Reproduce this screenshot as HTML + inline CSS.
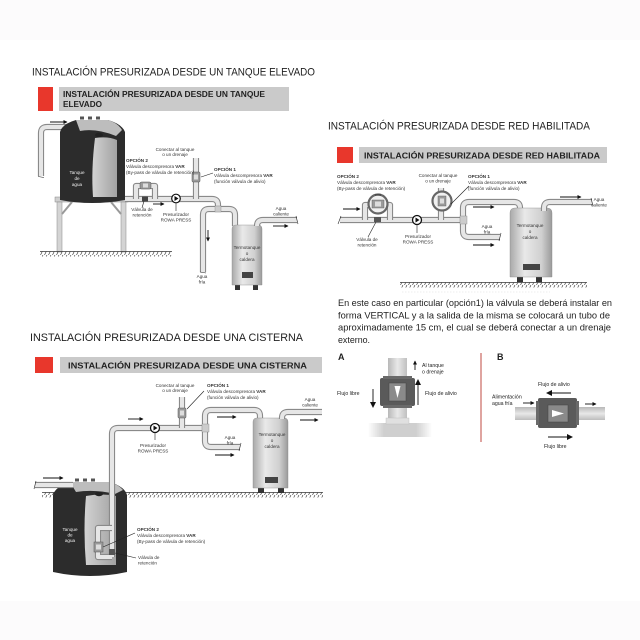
<!DOCTYPE html>
<html><head><meta charset="utf-8">
<style>
html,body{margin:0;padding:0;background:#fff;}
svg{display:block;}
.t{font-family:"Liberation Sans",Arial,sans-serif;fill:#222;}
.s{font-family:"Liberation Sans",Arial,sans-serif;fill:#333;font-size:4.6px;}
.b{font-weight:bold;}
.po{fill:none;stroke:#8a8a8a;stroke-width:6.2;stroke-linejoin:round;stroke-linecap:butt;}
.pi{fill:none;stroke:#e6e6e6;stroke-width:4;stroke-linejoin:round;stroke-linecap:butt;}
.ln{stroke:#222;stroke-width:0.6;fill:none;}
.ar{stroke:#111;stroke-width:0.9;fill:none;}
</style></head>
<body>
<svg width="640" height="640" viewBox="0 0 640 640" xmlns="http://www.w3.org/2000/svg">
<defs>
<marker id="ah" markerWidth="4" markerHeight="4" refX="3.5" refY="2" orient="auto" markerUnits="userSpaceOnUse">
<path d="M0,0 L4,2 L0,4 z" fill="#111"/></marker>
<marker id="ahb" markerWidth="6" markerHeight="6" refX="5" refY="3" orient="auto" markerUnits="userSpaceOnUse">
<path d="M0,0 L6,3 L0,6 z" fill="#111"/></marker>
<pattern id="hatch" width="4" height="5" patternUnits="userSpaceOnUse">
<line x1="0.5" y1="5" x2="3" y2="0" stroke="#333" stroke-width="0.6"/></pattern>
<linearGradient id="tt" x1="0" x2="1" y1="0" y2="0">
<stop offset="0" stop-color="#a9a9a9"/><stop offset="0.35" stop-color="#e9e9e9"/><stop offset="0.75" stop-color="#d0d0d0"/><stop offset="1" stop-color="#9a9a9a"/></linearGradient>
<linearGradient id="cut" x1="0" x2="1" y1="0" y2="0">
<stop offset="0" stop-color="#d2d2d2"/><stop offset="1" stop-color="#a2a2a2"/></linearGradient>
<linearGradient id="vp" x1="0" x2="1" y1="0" y2="0">
<stop offset="0" stop-color="#b8b8b8"/><stop offset="0.5" stop-color="#e8e8e8"/><stop offset="1" stop-color="#c0c0c0"/></linearGradient>
<linearGradient id="hp" x1="0" x2="0" y1="0" y2="1">
<stop offset="0" stop-color="#b8b8b8"/><stop offset="0.5" stop-color="#e8e8e8"/><stop offset="1" stop-color="#bdbdbd"/></linearGradient>
<linearGradient id="fade" x1="0" x2="1" y1="0" y2="0">
<stop offset="0" stop-color="#fff"/><stop offset="0.25" stop-color="#cfcfcf"/><stop offset="0.75" stop-color="#cfcfcf"/><stop offset="1" stop-color="#fff"/></linearGradient>

<path id="a1" d="M78,127 H47 Q41,127 41,133 V176"/>
<path id="a2" d="M125,199 H212 Q218,199 218,205 V209"/>
<path id="a3" d="M203,272 V215 Q203,209 209,209 H229 Q235,209 235,215 V226"/>
<path id="a4" d="M257,226 V226 Q257,220 263,220 H297"/>
<path id="a5" d="M196,158 V199"/>
<path id="a6" d="M136,199 V186 H155 V199"/>
<path id="b1" d="M340,220 H467"/>
<path id="b2" d="M463,220 V208 Q463,202 469,202 H514 Q520,202 520,208 V211"/>
<path id="b3" d="M463,220 V231 Q463,237 469,237 H500"/>
<path id="b4" d="M544,211 V208 Q544,202 550,202 H592"/>
<path id="b5" d="M441,188 V220"/>
<path id="b6" d="M365,220 V205 H390 V220"/>
<path id="c1" d="M112,557 V434 Q112,428 118,428 H205"/>
<path id="c2" d="M205,428 V416 Q205,410 211,410 H254 Q260,410 260,416 V419"/>
<path id="c3" d="M205,428 V441 Q205,447 211,447 H240"/>
<path id="c4" d="M282,419 V418 Q282,412 288,412 H322"/>
<path id="c5" d="M182,397 V428"/>
<path id="c6" d="M35,485 H73"/>
<path id="c7" d="M112,528 H98 V557 H112"/>
</defs>

<rect x="0" y="0" width="640" height="40" fill="#fcfbfc"/>
<rect x="0" y="601" width="640" height="39" fill="#fcfbfc"/>

<!-- SECTION 1 -->
<text class="t" x="32" y="75.5" font-size="10.6" textLength="283" lengthAdjust="spacingAndGlyphs">INSTALACIÓN PRESURIZADA DESDE UN TANQUE ELEVADO</text>
<rect x="38" y="87" width="15" height="24" fill="#e8372c"/>
<rect x="59" y="87" width="230" height="24" fill="#cacaca"/>
<text class="t b" x="63" y="97" font-size="8.6" fill="#333" textLength="202" lengthAdjust="spacingAndGlyphs">INSTALACIÓN PRESURIZADA DESDE UN TANQUE</text>
<text class="t b" x="63" y="107" font-size="8.6" fill="#333" textLength="39" lengthAdjust="spacingAndGlyphs">ELEVADO</text>

<rect x="55" y="197" width="73" height="5" fill="#cfcfcf" stroke="#888" stroke-width="0.5"/>
<rect x="57" y="202" width="5" height="50" fill="#d4d4d4" stroke="#888" stroke-width="0.5"/>
<rect x="121" y="202" width="5" height="50" fill="#d4d4d4" stroke="#888" stroke-width="0.5"/>
<line x1="62" y1="214" x2="72" y2="202" stroke="#999" stroke-width="2"/>
<line x1="121" y1="214" x2="111" y2="202" stroke="#999" stroke-width="2"/>
<rect x="40" y="251.5" width="132" height="5" fill="url(#hatch)"/>
<line x1="40" y1="251.5" x2="172" y2="251.5" stroke="#333" stroke-width="0.8"/>

<use href="#a1" class="po"/><use href="#a1" class="pi"/>
<line x1="38" y1="176.5" x2="44" y2="177.5" class="ln"/>
<path d="M60,132 Q62,124 76,120 H108 Q122,124 125,132 V200 Q92,206 60,200 Z" fill="#2c2c2c"/>
<path d="M76,120 H108 Q118,123 122,130 L116,136 Q96,128 80,131 Z" fill="#bdbdbd"/>
<path d="M95,138 Q108,136 117,140 V197 H93 Q91,170 95,138 Z" fill="url(#cut)"/>
<rect x="80" y="116.5" width="4" height="3" fill="#555"/><rect x="88" y="116.5" width="4" height="3" fill="#555"/><rect x="96" y="116.5" width="4" height="3" fill="#555"/>
<ellipse cx="99" cy="135" rx="4" ry="2.2" fill="#222"/>
<text class="s" x="77" y="174" text-anchor="middle" style="fill:#eee">Tanque</text>
<text class="s" x="77" y="180" text-anchor="middle" style="fill:#eee">de</text>
<text class="s" x="77" y="186" text-anchor="middle" style="fill:#eee">agua</text>
<line x1="50" y1="122" x2="67" y2="122" class="ar" marker-end="url(#ah)"/>

<use href="#a2" class="po"/><use href="#a2" class="pi"/>
<use href="#a3" class="po"/><use href="#a3" class="pi"/>
<use href="#a5" class="po"/><use href="#a5" class="pi"/>
<use href="#a6" class="po"/><use href="#a6" class="pi"/>
<line x1="200" y1="272" x2="206" y2="273" class="ln"/>
<rect x="215" y="206" width="6" height="6" fill="#ccc" stroke="#888" stroke-width="0.4"/>
<rect x="235" y="285" width="5" height="5" fill="#333"/><rect x="253" y="285" width="5" height="5" fill="#333"/>
<path d="M232,229 Q232,225 236,225 H258 Q262,225 262,229 V285 H232 Z" fill="url(#tt)" stroke="#888" stroke-width="0.4"/>
<rect x="242" y="272" width="11" height="6" fill="#444"/>
<use href="#a4" class="po"/><use href="#a4" class="pi"/>
<line x1="296" y1="216" x2="298" y2="224" class="ln"/>
<text class="s" x="247" y="249" text-anchor="middle">Termotanque</text>
<text class="s" x="247" y="255" text-anchor="middle">o</text>
<text class="s" x="247" y="261" text-anchor="middle">caldera</text>
<rect x="140" y="182" width="11" height="7" rx="1.5" fill="#9a9a9a" stroke="#555" stroke-width="0.5"/>
<rect x="143" y="183.5" width="5" height="4" fill="#ddd"/>
<rect x="142" y="196.5" width="6" height="5" fill="#444"/>
<rect x="192" y="172" width="8" height="10" rx="1" fill="#9a9a9a" stroke="#555" stroke-width="0.5"/>
<rect x="194" y="174.5" width="4" height="5" fill="#ddd"/>
<circle cx="176" cy="198.5" r="4.3" fill="#fff" stroke="#111" stroke-width="1.2"/>
<path d="M174.5,196 L178.5,198.5 L174.5,201 Z" fill="#111"/>
<line x1="176" y1="203" x2="176" y2="211" class="ln"/>
<line x1="213" y1="173" x2="201" y2="177" class="ln"/>
<line x1="142" y1="208" x2="144" y2="201" class="ln"/>
<line x1="153" y1="204" x2="164" y2="204" class="ar" marker-end="url(#ah)"/>
<line x1="208" y1="230" x2="208" y2="241" class="ar" marker-end="url(#ah)"/>
<line x1="273" y1="226" x2="288" y2="226" class="ar" marker-end="url(#ah)"/>
<text class="s" x="175" y="151" text-anchor="middle">Conectar al tanque</text>
<text class="s" x="175" y="156" text-anchor="middle">o un drenaje</text>
<text class="s b" x="126" y="162">OPCIÓN 2</text>
<text class="s" x="126" y="168">Válvula descompresora <tspan font-weight="bold">VAR</tspan></text>
<text class="s" x="126" y="174">(By-pass de válvula de retención)</text>
<text class="s b" x="214" y="171">OPCIÓN 1</text>
<text class="s" x="214" y="177">Válvula descompresora <tspan font-weight="bold">VAR</tspan></text>
<text class="s" x="214" y="183">(función válvula de alivio)</text>
<text class="s" x="142" y="211" text-anchor="middle">Válvula de</text>
<text class="s" x="142" y="216.5" text-anchor="middle">retención</text>
<text class="s" x="176" y="216" text-anchor="middle">Presurizador</text>
<text class="s" x="176" y="221.5" text-anchor="middle">ROWA PRESS</text>
<text class="s" x="281" y="210" text-anchor="middle">Agua</text>
<text class="s" x="281" y="215.5" text-anchor="middle">caliente</text>
<text class="s" x="202" y="278" text-anchor="middle">Agua</text>
<text class="s" x="202" y="283.5" text-anchor="middle">fría</text>

<!-- SECTION 2 -->
<text class="t" x="328" y="129.5" font-size="10.6" textLength="262" lengthAdjust="spacingAndGlyphs">INSTALACIÓN PRESURIZADA DESDE RED HABILITADA</text>
<rect x="337" y="147" width="16" height="16" fill="#e8372c"/>
<rect x="359" y="147" width="248" height="16" fill="#cacaca"/>
<text class="t b" x="364" y="158.5" font-size="8.6" fill="#333" textLength="236" lengthAdjust="spacingAndGlyphs">INSTALACIÓN PRESURIZADA DESDE RED HABILITADA</text>

<use href="#b1" class="po"/><use href="#b1" class="pi"/>
<use href="#b2" class="po"/><use href="#b2" class="pi"/>
<use href="#b3" class="po"/><use href="#b3" class="pi"/>
<use href="#b5" class="po"/><use href="#b5" class="pi"/>
<use href="#b6" class="po"/><use href="#b6" class="pi"/>
<rect x="460" y="216" width="7" height="8" fill="#ccc" stroke="#888" stroke-width="0.4"/>
<line x1="338" y1="224" x2="341" y2="216" class="ln"/>
<line x1="499" y1="241" x2="501" y2="233" class="ln"/>
<rect x="517" y="277" width="6" height="5" fill="#333"/><rect x="536" y="277" width="6" height="5" fill="#333"/>
<path d="M510,213 Q510,208 515,208 H547 Q552,208 552,213 V277 H510 Z" fill="url(#tt)" stroke="#888" stroke-width="0.4"/>
<rect x="523" y="264" width="17" height="6" fill="#444"/>
<use href="#b4" class="po"/><use href="#b4" class="pi"/>
<line x1="591" y1="198" x2="593" y2="206" class="ln"/>
<rect x="400" y="282.5" width="187" height="5" fill="url(#hatch)"/>
<line x1="400" y1="282.5" x2="587" y2="282.5" stroke="#333" stroke-width="0.8"/>
<text class="s" x="530" y="227" text-anchor="middle">Termotanque</text>
<text class="s" x="530" y="233" text-anchor="middle">o</text>
<text class="s" x="530" y="239" text-anchor="middle">caldera</text>
<circle cx="378" cy="204" r="9.5" fill="#f0f0f0" stroke="#666" stroke-width="2.2"/>
<rect x="372" y="200" width="12" height="8" fill="#9a9a9a" stroke="#555" stroke-width="0.4"/>
<rect x="375" y="201.5" width="6" height="5" fill="#ddd"/>
<line x1="375" y1="195" x2="381" y2="195" stroke="#333" stroke-width="1"/>
<rect x="374" y="217" width="7" height="5" fill="#555"/>
<circle cx="442" cy="201" r="9.5" fill="#f0f0f0" stroke="#666" stroke-width="2.2"/>
<rect x="438" y="196" width="8" height="10" fill="#9a9a9a" stroke="#555" stroke-width="0.4"/>
<rect x="440" y="198.5" width="4" height="5" fill="#ddd"/>
<circle cx="417" cy="220" r="4.5" fill="#fff" stroke="#111" stroke-width="1.3"/>
<path d="M415.5,217.5 L419.5,220 L415.5,222.5 Z" fill="#111"/>
<line x1="417" y1="224.5" x2="417" y2="233" class="ln"/>
<line x1="368" y1="237" x2="376" y2="222" class="ln"/>
<line x1="469" y1="186" x2="451" y2="204" class="ln"/>
<line x1="343" y1="209" x2="360" y2="209" class="ar" marker-end="url(#ah)"/>
<line x1="473" y1="207" x2="494" y2="207" class="ar" marker-end="url(#ah)"/>
<line x1="473" y1="245" x2="494" y2="245" class="ar" marker-end="url(#ah)"/>
<line x1="560" y1="197" x2="581" y2="197" class="ar" marker-end="url(#ah)"/>
<text class="s b" x="337" y="178">OPCIÓN 2</text>
<text class="s" x="337" y="184">Válvula descompresora <tspan font-weight="bold">VAR</tspan></text>
<text class="s" x="337" y="190">(By-pass de válvula de retención)</text>
<text class="s" x="438" y="177" text-anchor="middle">Conectar al tanque</text>
<text class="s" x="438" y="182.5" text-anchor="middle">o un drenaje</text>
<text class="s b" x="468" y="178">OPCIÓN 1</text>
<text class="s" x="468" y="184">Válvula descompresora <tspan font-weight="bold">VAR</tspan></text>
<text class="s" x="468" y="190">(función válvula de alivio)</text>
<text class="s" x="367" y="241" text-anchor="middle">Válvula de</text>
<text class="s" x="367" y="246.5" text-anchor="middle">retención</text>
<text class="s" x="418" y="238" text-anchor="middle">Presurizador</text>
<text class="s" x="418" y="243.5" text-anchor="middle">ROWA PRESS</text>
<text class="s" x="487" y="228" text-anchor="middle">Agua</text>
<text class="s" x="487" y="233.5" text-anchor="middle">fría</text>
<text class="s" x="599" y="201" text-anchor="middle">Agua</text>
<text class="s" x="599" y="206.5" text-anchor="middle">caliente</text>

<!-- paragraph -->
<line x1="402" y1="292" x2="550" y2="292" stroke="#ddd" stroke-width="0.6" stroke-dasharray="1.5,1.5"/>
<text class="t" x="338" y="306" font-size="9.4" fill="#333" textLength="274" lengthAdjust="spacingAndGlyphs">En este caso en particular (opción1) la válvula se deberá instalar en</text>
<text class="t" x="338" y="318.3" font-size="9.4" fill="#333" textLength="272" lengthAdjust="spacingAndGlyphs">forma VERTICAL y a la salida de la misma se colocará un tubo de</text>
<text class="t" x="338" y="330.6" font-size="9.4" fill="#333" textLength="273" lengthAdjust="spacingAndGlyphs">aproximadamente 15 cm, el cual se deberá conectar a un drenaje</text>
<text class="t" x="338" y="343" font-size="9.4" fill="#333" textLength="32" lengthAdjust="spacingAndGlyphs">externo.</text>

<!-- A -->
<text class="t b" x="338" y="360" font-size="9" fill="#333">A</text>
<rect x="368" y="423" width="64" height="14" fill="url(#fade)"/>
<rect x="388" y="358" width="19" height="66" fill="url(#vp)"/>
<rect x="386" y="418" width="23" height="6" fill="#e0e0e0" stroke="#bbb" stroke-width="0.4"/>
<rect x="380" y="378" width="35" height="28" rx="2" fill="#5a5a5a"/>
<rect x="383" y="376" width="29" height="3" fill="#6a6a6a"/>
<rect x="383" y="405" width="29" height="3" fill="#6a6a6a"/>
<rect x="389" y="383" width="17" height="18" fill="#8a8a8a" stroke="#444" stroke-width="0.5"/>
<path d="M394.5,386 L400.5,386 L397.5,398 Z" fill="#fff"/>
<line x1="373" y1="389" x2="373" y2="407" class="ar" marker-end="url(#ahb)" stroke-width="1.2"/>
<line x1="418" y1="405" x2="418" y2="380" class="ar" marker-end="url(#ahb)" stroke-width="1.2"/>
<line x1="415" y1="370" x2="415" y2="361" class="ar" marker-end="url(#ah)" stroke-width="0.7"/>
<text class="t" x="337" y="395" font-size="5.2" fill="#333">Flujo libre</text>
<text class="t" x="425" y="395" font-size="5.2" fill="#333">Flujo de alivio</text>
<text class="t" x="422" y="367" font-size="5.2" fill="#333">Al tanque</text>
<text class="t" x="422" y="373.5" font-size="5.2" fill="#333">o drenaje</text>

<line x1="481" y1="353" x2="481" y2="442" stroke="#b8352c" stroke-width="0.9"/>

<!-- B -->
<text class="t b" x="497" y="360" font-size="9" fill="#333">B</text>
<rect x="515" y="407" width="90" height="13" fill="url(#hp)"/>
<rect x="538" y="398" width="39" height="30" rx="2" fill="#5a5a5a"/>
<rect x="536" y="401" width="3" height="24" fill="#6a6a6a"/>
<rect x="576" y="401" width="3" height="24" fill="#6a6a6a"/>
<rect x="548" y="405" width="20" height="17" fill="#8a8a8a" stroke="#444" stroke-width="0.5"/>
<path d="M552,410 L564,413.5 L552,417 Z" fill="#fff"/>
<line x1="571" y1="393" x2="547" y2="393" class="ar" marker-end="url(#ahb)" stroke-width="1.2"/>
<line x1="548" y1="437" x2="572" y2="437" class="ar" marker-end="url(#ahb)" stroke-width="1.2"/>
<line x1="523" y1="403" x2="534" y2="403" class="ar" marker-end="url(#ah)" stroke-width="0.6"/>
<line x1="585" y1="404" x2="596" y2="404" class="ar" marker-end="url(#ah)" stroke-width="0.6"/>
<text class="t" x="538" y="386" font-size="5.2" fill="#333">Flujo de alivio</text>
<text class="t" x="492" y="398.5" font-size="5.2" fill="#333">Alimentación</text>
<text class="t" x="492" y="405" font-size="5.2" fill="#333">agua fría</text>
<text class="t" x="544" y="448" font-size="5.2" fill="#333">Flujo libre</text>

<!-- SECTION 3 -->
<text class="t" x="30" y="341" font-size="10.6" textLength="273" lengthAdjust="spacingAndGlyphs">INSTALACIÓN PRESURIZADA DESDE UNA CISTERNA</text>
<rect x="35" y="357" width="18" height="16" fill="#e8372c"/>
<rect x="60" y="357" width="262" height="16" fill="#cacaca"/>
<text class="t b" x="68" y="368.5" font-size="8.6" fill="#333" textLength="239" lengthAdjust="spacingAndGlyphs">INSTALACIÓN PRESURIZADA DESDE UNA CISTERNA</text>

<rect x="42" y="492.5" width="281" height="5" fill="url(#hatch)"/>
<line x1="42" y1="492.5" x2="323" y2="492.5" stroke="#333" stroke-width="0.8"/>

<path d="M53,495 Q55,487 70,482 H110 Q125,487 127,495 V572 Q90,580 53,572 Z" fill="#2c2c2c"/>
<path d="M70,482 H110 Q119,485 123,490 L115,494 Q95,489 76,492 Z" fill="#bdbdbd"/>
<path d="M86,496 Q102,493 116,496 V565 H86 Q83,530 86,496 Z" fill="url(#cut)"/>
<rect x="75" y="478.5" width="4" height="3" fill="#555"/><rect x="83" y="478.5" width="4" height="3" fill="#555"/><rect x="91" y="478.5" width="4" height="3" fill="#555"/>
<ellipse cx="99" cy="494" rx="4" ry="2.2" fill="#222"/>
<use href="#c6" class="po"/><use href="#c6" class="pi"/>
<line x1="34" y1="489" x2="36" y2="481" class="ln"/>
<line x1="43" y1="478" x2="63" y2="478" class="ar" marker-end="url(#ah)"/>
<text class="s" x="70" y="531" text-anchor="middle" style="fill:#eee">Tanque</text>
<text class="s" x="70" y="536.5" text-anchor="middle" style="fill:#eee">de</text>
<text class="s" x="70" y="542" text-anchor="middle" style="fill:#eee">agua</text>

<use href="#c1" class="po"/><use href="#c1" class="pi"/>
<use href="#c7" class="po"/><use href="#c7" class="pi"/>
<rect x="94" y="542" width="9" height="10" fill="#9a9a9a" stroke="#555" stroke-width="0.5"/>
<rect x="96" y="544.5" width="5" height="5" fill="#ddd"/>
<rect x="109" y="549" width="6" height="6" fill="#555"/>
<use href="#c2" class="po"/><use href="#c2" class="pi"/>
<use href="#c3" class="po"/><use href="#c3" class="pi"/>
<use href="#c5" class="po"/><use href="#c5" class="pi"/>
<rect x="202" y="424" width="7" height="8" fill="#ccc" stroke="#888" stroke-width="0.4"/>
<line x1="239" y1="451" x2="241" y2="443" class="ln"/>
<rect x="258" y="488" width="6" height="5" fill="#333"/><rect x="278" y="488" width="6" height="5" fill="#333"/>
<path d="M253,422 Q253,418 257,418 H284 Q288,418 288,422 V488 H253 Z" fill="url(#tt)" stroke="#888" stroke-width="0.4"/>
<rect x="265" y="477" width="13" height="6" fill="#444"/>
<use href="#c4" class="po"/><use href="#c4" class="pi"/>
<text class="s" x="272" y="436" text-anchor="middle">Termotanque</text>
<text class="s" x="272" y="442" text-anchor="middle">o</text>
<text class="s" x="272" y="448" text-anchor="middle">caldera</text>
<rect x="178" y="408" width="8" height="10" rx="1" fill="#9a9a9a" stroke="#555" stroke-width="0.5"/>
<rect x="180" y="410.5" width="4" height="5" fill="#ddd"/>
<circle cx="155" cy="428" r="4.5" fill="#fff" stroke="#111" stroke-width="1.3"/>
<path d="M153.5,425.5 L157.5,428 L153.5,430.5 Z" fill="#111"/>
<line x1="155" y1="432.5" x2="155" y2="440" class="ln"/>
<line x1="204" y1="391" x2="187" y2="409" class="ln"/>
<line x1="135" y1="533" x2="103" y2="547" class="ln"/>
<line x1="136" y1="558" x2="115" y2="553" class="ln"/>
<line x1="128" y1="419" x2="143" y2="419" class="ar" marker-end="url(#ah)"/>
<line x1="217" y1="417" x2="236" y2="417" class="ar" marker-end="url(#ah)"/>
<line x1="215" y1="455" x2="234" y2="455" class="ar" marker-end="url(#ah)"/>
<line x1="300" y1="420" x2="318" y2="420" class="ar" marker-end="url(#ah)"/>
<text class="s" x="175" y="387" text-anchor="middle">Conectar al tanque</text>
<text class="s" x="175" y="392" text-anchor="middle">o un drenaje</text>
<text class="s b" x="207" y="387">OPCIÓN 1</text>
<text class="s" x="207" y="393">Válvula descompresora <tspan font-weight="bold">VAR</tspan></text>
<text class="s" x="207" y="399">(función válvula de alivio)</text>
<text class="s" x="310" y="401" text-anchor="middle">Agua</text>
<text class="s" x="310" y="406.5" text-anchor="middle">caliente</text>
<text class="s" x="153" y="447" text-anchor="middle">Presurizador</text>
<text class="s" x="153" y="452.5" text-anchor="middle">ROWA PRESS</text>
<text class="s" x="230" y="439" text-anchor="middle">Agua</text>
<text class="s" x="230" y="444.5" text-anchor="middle">fría</text>
<text class="s b" x="137" y="531">OPCIÓN 2</text>
<text class="s" x="137" y="537">Válvula descompresora <tspan font-weight="bold">VAR</tspan></text>
<text class="s" x="137" y="543">(By-pass de válvula de retención)</text>
<text class="s" x="138" y="559">Válvula de</text>
<text class="s" x="138" y="564.5">retención</text>
</svg>
</body></html>
